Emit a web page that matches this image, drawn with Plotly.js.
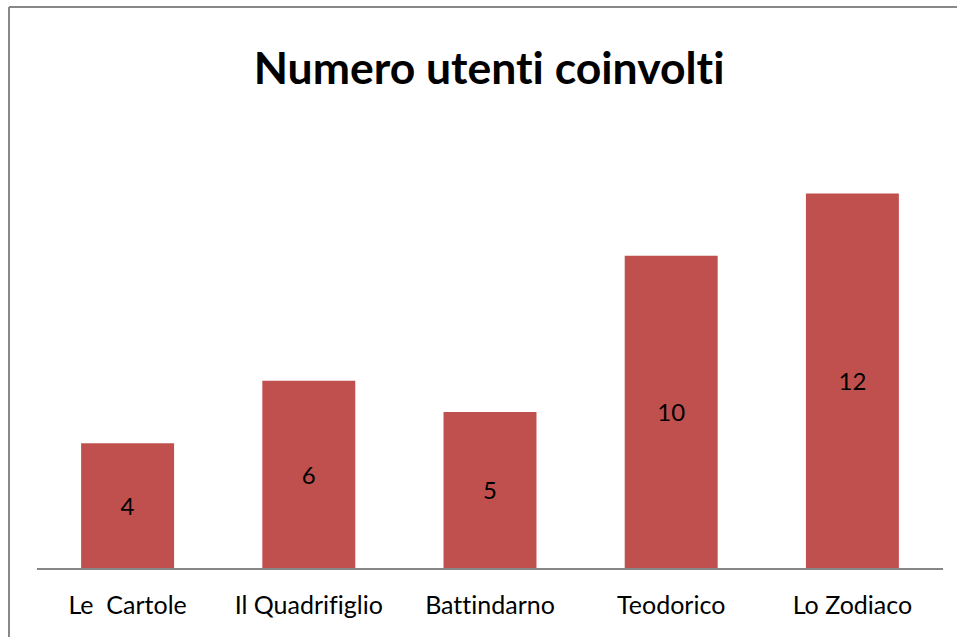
<!DOCTYPE html>
<html>
<head>
<meta charset="utf-8">
<script src="https://cdn.plot.ly/plotly-3.0.1.min.js"></script>
<style>html,body{margin:0;padding:0;background:#fff;overflow:hidden;}#chart{width:959px;height:637px;}
text{font-variant-ligatures:none !important;font-feature-settings:"liga" 0, "clig" 0 !important;}</style>
</head>
<body>
<div id="chart"></div>
<script>
const categories = ["Le  Cartole", "Il Quadrifiglio", "Battindarno", "Teodorico", "Lo Zodiaco"];
const values = [4, 6, 5, 10, 12];
const labels = ["4", "6", "5", "10", "12"];

const trace = {
  type: "bar",
  x: categories,
  y: values,
  text: labels,
  textposition: "inside",
  insidetextanchor: "middle",
  textfont: {family: "Lato, sans-serif", size: 24, color: "#000"},
  marker: {color: "#C0504D"},
  hoverinfo: "none",
  cliponaxis: false
};

const layout = {
  width: 959, height: 637,
  margin: {l: 37, r: 16, t: 131, b: 69},
  paper_bgcolor: "#fff", plot_bgcolor: "#fff",
  title: {text: "<b>Numero utenti coinvolti</b>", font: {family: "Lato, sans-serif", size: 44.5, color: "#000"}, x: 0.51, xanchor: "center", y: 0.893, yanchor: "middle"},
  bargap: 0.487,
  showlegend: false,
  xaxis: {showline: true, linecolor: "#868686", linewidth: 2, ticks: "", showgrid: false, zeroline: false,
          ticklabelstandoff: 14,
          tickfont: {family: "Lato, sans-serif", size: 25, color: "#000"}, fixedrange: true},
  yaxis: {range: [0, 14], visible: false, showgrid: false, zeroline: false, fixedrange: true},
  uniformtext: {mode: "show", minsize: 24},
  shapes: [{type: "line", xref: "paper", yref: "paper", x0: -0.0309, x1: -0.0309, y0: -0.5, y1: 1.2838,
            line: {color: "#888888", width: 2}, layer: "above"},
           {type: "line", xref: "paper", yref: "paper", x0: -0.0309, x1: 1.0155, y0: 1.2838, y1: 1.2838,
            line: {color: "#888888", width: 2}, layer: "above"}]
};
Plotly.newPlot("chart", [trace], layout, {displayModeBar: false, staticPlot: true});
</script>
</body>
</html>
